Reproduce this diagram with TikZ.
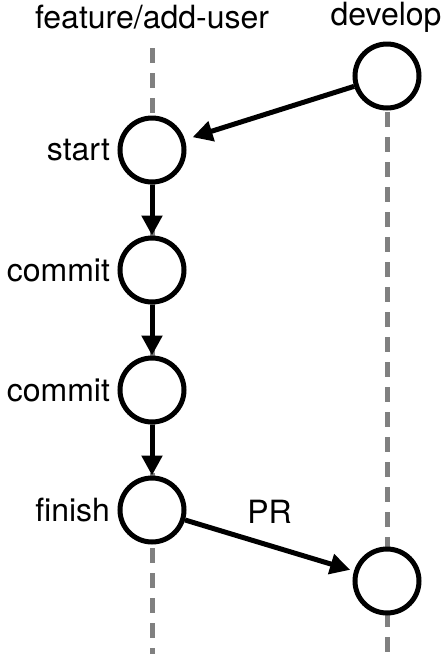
\documentclass[tikz,border=0pt]{standalone}
\usepackage{fontspec}
\setmainfont{TeX Gyre Heros}
\usetikzlibrary{arrows.meta}

\begin{document}
\begin{tikzpicture}[x=1pt,y=-1pt,
	every node/.style={font=\fontsize{32}{37}\selectfont},
	commitnode/.style={circle,draw,fill=white,line width=5pt,minimum size=64pt,inner sep=0pt},
	branchline/.style={draw=gray,line width=5pt,dash pattern=on 15pt off 10pt},
	link/.style={-{Triangle[length=20pt,width=20pt]},line width=5pt}]
	\useasboundingbox (0,0) rectangle (444,654);
	% branch lines
	\draw [branchline] (152,48) -- (152,654);
	\draw [branchline] (387,112) -- (387,654);
	% branch names
	\node (featurehead) at (152,17) {feature/add-user};
	\node (develophead) at (386,17) {develop};
	% commits
	\node [commitnode] (dev) at (387,76) {};
	\node [commitnode,label={[label distance=4pt]left:start}] (start) at (152,150) {};
	\node [commitnode,label={[label distance=4pt]left:commit}] (commita) at (152,270) {};
	\node [commitnode,label={[label distance=4pt]left:commit}] (commitb) at (152,390) {};
	\node [commitnode,label={[label distance=4pt]left:finish}] (finish) at (152,510) {};
	\node [commitnode] (merge) at (387,581) {};
	% arrows
	\draw [link,shorten >=8pt] (dev) -- (start);
	\draw [link] (start) -- (commita);
	\draw [link] (commita) -- (commitb);
	\draw [link] (commitb) -- (finish);
	\draw [link,shorten >=4pt] (finish) -- node[midway,above=16pt] (prlabel) {PR} (merge);
\end{tikzpicture}
\end{document}
